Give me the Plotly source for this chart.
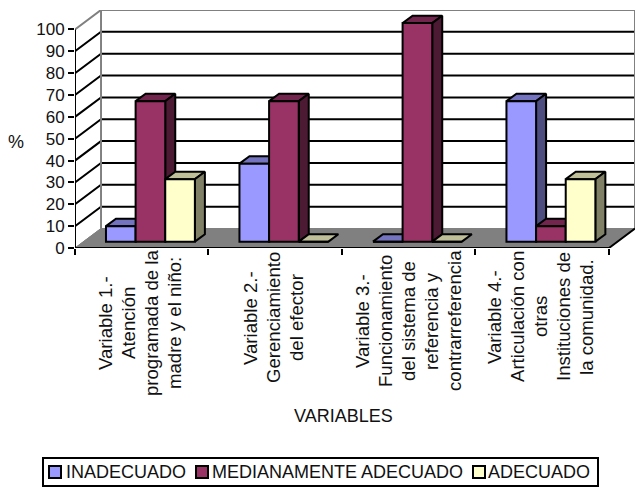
import plotly.graph_objects as go

# Percentages per variable, one list per rating
series_names = ["INADECUADO", "MEDIANAMENTE ADECUADO", "ADECUADO"]
inadecuado = [7.1, 35.7, 0, 64.3]
medianamente = [64.3, 64.3, 100, 7.1]
adecuado = [28.6, 0, 0, 28.6]

category_lines = [
    ["Variable 1.-", "Atención", "programada de la", "madre y el niño:"],
    ["Variable 2.-", "Gerenciamiento", "del efector"],
    ["Variable 3.-", "Funcionamiento", "del sistema de", "referencia y", "contrarreferencia"],
    ["Variable 4.-", "Articulación con", "otras", "Instituciones de", "la comunidad."],
]
y_ticks = list(range(0, 101, 10))

front_colors = ["#9999FF", "#993366", "#FFFFCC"]
top_colors = ["#7373BF", "#73264D", "#BFBF99"]
side_colors = ["#4D4D80", "#4D1A33", "#808066"]

WIDTH, HEIGHT = 637, 490
LEFT, RIGHT, TOP, BOTTOM = 75, 2, 10, 242
FONT = "Liberation Sans, Arial, sans-serif"
TEXT_COLOR = "#111111"
FS_TICK = 17
FS_CATEGORY = 18.6
FS_TEXT = 18

# Oblique projection of the box, in axis units
WALL_DX, WALL_DY = 0.195, 8.92
BAR_DX, BAR_DY = 0.075, 3.4
BAR_LIFT = 2.9
BAR_W = 0.222
BAR_START = 0.232
X_MAX = 4 + WALL_DX
Y_MAX = 108.9

plot_w = WIDTH - LEFT - RIGHT
plot_h = HEIGHT - TOP - BOTTOM


def paper_x(px):
    return (px - LEFT) / plot_w


def paper_y(py):
    return (HEIGHT - BOTTOM - py) / plot_h


def polygon(xs, ys, fill, z, line_color="black", width=2):
    return go.Scatter(
        x=xs, y=ys, mode="lines", fill="toself", fillcolor=fill,
        line=dict(color=line_color, width=width), zorder=z,
        cliponaxis=False, hoverinfo="skip", showlegend=False,
    )


def path(xs, ys, color, z=0, width=2):
    return go.Scatter(
        x=xs, y=ys, mode="lines", line=dict(color=color, width=width),
        zorder=z, cliponaxis=False, hoverinfo="skip", showlegend=False,
    )


fig = go.Figure()

# Floor of the box
fig.add_trace(polygon(
    [0, 4, X_MAX, WALL_DX, 0], [0, 0, WALL_DY, WALL_DY, 0],
    "#808080", 0, line_color="#808080", width=1,
))

# Gridlines across the back wall and down the left wall
grid_x, grid_y = [], []
for v in y_ticks[1:-1]:
    grid_x += [0, WALL_DX, X_MAX, None]
    grid_y += [v, v + WALL_DY, v + WALL_DY, None]
fig.add_trace(path(grid_x, grid_y, "black"))

# Grey frame of the walls
fig.add_trace(path(
    [0, WALL_DX, X_MAX, X_MAX], [100, 100 + WALL_DY, 100 + WALL_DY, WALL_DY], "#808080",
))
fig.add_trace(path([WALL_DX, WALL_DX], [100 + WALL_DY, WALL_DY], "#808080"))
fig.add_trace(path([0, WALL_DX], [0, WALL_DY], "#808080", width=1))

# Front edges of the box
fig.add_trace(path([0, 0], [0, 100], "black", z=1))
fig.add_trace(path([0, 4, X_MAX], [0, 0, WALL_DY], "black", z=1))

# Bars, painted back to front: top and side faces, then the front face
all_values = [inadecuado, medianamente, adecuado]
for s, values in enumerate(all_values):
    z = 2 + 2 * s
    lefts = [c + BAR_START + s * BAR_W for c in range(len(values))]
    for x0, v in zip(lefts, values):
        x1 = x0 + BAR_W
        y0, y1 = BAR_LIFT, BAR_LIFT + v
        fig.add_trace(polygon(
            [x0, x1, x1 + BAR_DX, x0 + BAR_DX, x0],
            [y1, y1, y1 + BAR_DY, y1 + BAR_DY, y1],
            top_colors[s], z,
        ))
        if v > 0:
            fig.add_trace(polygon(
                [x1, x1 + BAR_DX, x1 + BAR_DX, x1, x1],
                [y0, y0 + BAR_DY, y1 + BAR_DY, y1, y0],
                side_colors[s], z,
            ))
    fig.add_trace(go.Bar(
        x=[x + BAR_W / 2 for x in lefts], y=values, base=BAR_LIFT, width=BAR_W,
        marker=dict(color=front_colors[s], line=dict(color="black", width=2)),
        name=series_names[s], zorder=z + 1, cliponaxis=False, showlegend=False,
    ))

annotations = []


def text_style(size):
    return dict(
        xref="paper", yref="paper", showarrow=False,
        font=dict(family=FONT, size=size, color=TEXT_COLOR),
    )


# Rotated category labels: each block of lines is centred on its own middle
LINE_STEP = 23
label_mid_x = [140, 273, 408, 540]
label_mid_y = [323.5, 318, 321, 317]
for lines, mx, my in zip(category_lines, label_mid_x, label_mid_y):
    centre = (len(lines) - 1) / 2
    for i, line in enumerate(lines):
        annotations.append(dict(
            x=paper_x(mx + (i - centre) * LINE_STEP), y=paper_y(my), text=line, textangle=-90,
            xanchor="center", yanchor="middle",
            **text_style(FS_CATEGORY),
        ))

annotations.append(dict(
    x=paper_x(16), y=paper_y(142), text="%", xanchor="center", yanchor="middle",
    **text_style(FS_TEXT),
))
annotations.append(dict(
    x=paper_x(343), y=paper_y(416), text="VARIABLES", xanchor="center", yanchor="middle",
    **text_style(FS_TEXT),
))

# Legend strip along the bottom
LEG_Y = 472
shapes = [dict(
    type="rect", xref="paper", yref="paper", layer="above",
    x0=paper_x(43), x1=paper_x(598), y0=paper_y(458), y1=paper_y(486),
    line=dict(color="black", width=2), fillcolor="white",
)]
swatch_px = [49, 196, 473]
legend_text_px = [64, 210, 486]
for name, color, sx, tx in zip(series_names, front_colors, swatch_px, legend_text_px):
    shapes.append(dict(
        type="rect", xref="paper", yref="paper", layer="above",
        x0=paper_x(sx), x1=paper_x(sx + 12), y0=paper_y(LEG_Y - 6), y1=paper_y(LEG_Y + 6),
        line=dict(color="black", width=2), fillcolor=color,
    ))
    annotations.append(dict(
        x=paper_x(tx), y=paper_y(LEG_Y), text=name, xanchor="left", yanchor="middle",
        **text_style(FS_TEXT),
    ))

fig.update_layout(
    width=WIDTH, height=HEIGHT, autosize=False,
    margin=dict(l=LEFT, r=RIGHT, t=TOP, b=BOTTOM),
    paper_bgcolor="white", plot_bgcolor="white",
    showlegend=False, barmode="overlay",
    annotations=annotations, shapes=shapes,
    font=dict(family=FONT, size=FS_TEXT, color=TEXT_COLOR),
    xaxis=dict(
        range=[0, X_MAX], tickvals=[0, 1, 2, 3, 4], ticktext=[""] * 5,
        ticks="outside", ticklen=6, tickwidth=2, tickcolor="black",
        showgrid=False, zeroline=False, showline=False,
    ),
    yaxis=dict(
        range=[0, Y_MAX], tickvals=y_ticks, ticks="outside", ticklen=6, tickwidth=2,
        tickcolor="black", showgrid=False, zeroline=False, showline=False,
        tickfont=dict(family=FONT, size=FS_TICK, color=TEXT_COLOR),
    ),
)

fig.write_html("out.html")
